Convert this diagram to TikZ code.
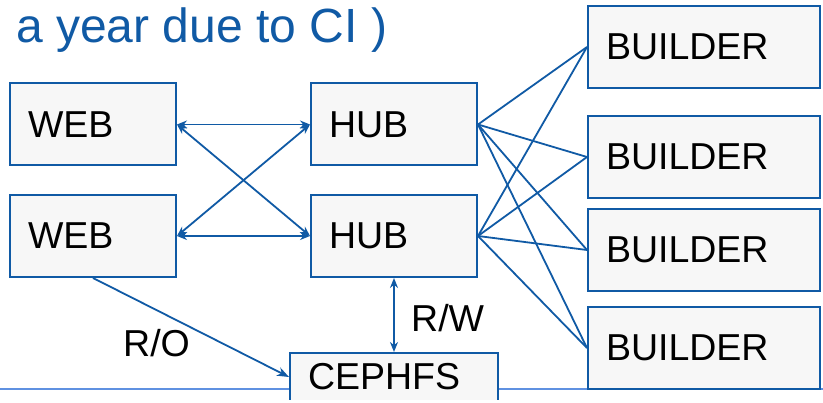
\documentclass[tikz,border=0pt]{standalone}
\usepackage{fontspec}
\setmainfont{Liberation Sans}
\usetikzlibrary{arrows.meta}
\definecolor{bblue}{RGB}{16,90,165}
\definecolor{lblue}{RGB}{95,145,225}
\definecolor{boxfill}{RGB}{247,247,247}
\begin{document}
\begin{tikzpicture}[x=1pt,y=-1pt,
  box/.style={draw=bblue, line width=2pt, fill=boxfill, minimum height=82pt, inner xsep=18pt, inner ysep=0pt, align=left, font=\fontsize{37.5}{40}\selectfont},
  smallbox/.style={box, text width=130pt},
  bigbox/.style={box, text width=196pt},
  conn/.style={draw=bblue, line width=1.8pt},
  dbl/.style={conn, {Stealth[length=10pt,width=8pt]}-{Stealth[length=10pt,width=8pt]}},
  lbl/.style={anchor=base west, inner sep=0pt, font=\fontsize{37.5}{40}\selectfont}]
\useasboundingbox (0,0) rectangle (823,403);
\fill[white] (0,0) rectangle (823,403);
\begin{scope}
\clip (0,0) rectangle (823,399.5);
\coordinate (ll) at (0,389);
\coordinate (lr) at (823,389);
\draw[lblue, line width=1.6pt] (ll) -- (lr);
\node[anchor=base west, inner sep=0pt, text=bblue, font=\fontsize{48}{52}\selectfont] (title) at (16,43) {a year due to CI )};
\node[smallbox] (web1) at (93,124.5) {WEB};
\node[smallbox] (web2) at (93,236) {WEB};
\node[smallbox] (hub1) at (394,124.5) {HUB};
\node[smallbox] (hub2) at (394,236) {HUB};
\node[bigbox] (b1) at (704,47) {BUILDER};
\node[bigbox] (b2) at (704,157) {BUILDER};
\node[bigbox] (b3) at (704,250) {BUILDER};
\node[bigbox] (b4) at (704,348) {BUILDER};
\node[box, text width=172pt, minimum height=48pt] (ceph) at (394,377) {CEPHFS};
\draw[dbl] (web1.east) -- (hub1.west);
\draw[dbl] (web1.east) -- (hub2.west);
\draw[dbl] (web2.east) -- (hub1.west);
\draw[dbl] (web2.east) -- (hub2.west);
\foreach \h in {hub1,hub2}{
  \foreach \b in {b1,b2,b3,b4}{
    \draw[conn] (\h.east) -- (\b.west);
  }
}
\draw[conn, -{Stealth[length=12pt,width=9pt]}] (web2.south) -- (ceph.west);
\draw[conn, {Stealth[length=10pt,width=8pt]}-{Stealth[length=10pt,width=8pt]}] (hub2.south) -- (ceph.north);
\node[lbl] (ro) at (123,357) {R/O};
\node[lbl] (rw) at (411,332) {R/W};
\end{scope}
\end{tikzpicture}
\end{document}
